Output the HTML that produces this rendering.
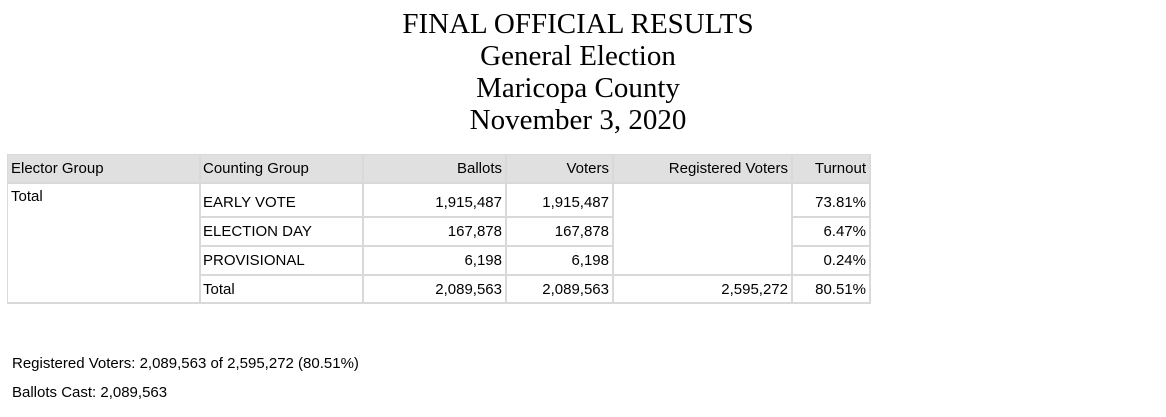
<!DOCTYPE html>
<html><head><meta charset="utf-8"><style>
body{margin:0;width:1166px;height:417px;background:#fff;position:relative;overflow:hidden;font-family:"Liberation Sans",sans-serif;color:#000}
.t{position:absolute;left:0;width:1156px;text-align:center;font-family:"Liberation Serif",serif;font-size:29px;line-height:32px}
.c{position:absolute;box-sizing:border-box;font-size:15px;padding:0 4px;white-space:nowrap}
.h{background:#e0e0e0;line-height:28px}
.r{text-align:right}
.ln{position:absolute;background:#d9d9d9}
.f{position:absolute;left:12px;font-size:15px}
</style></head><body>
<div class="t" style="top:8px">FINAL OFFICIAL RESULTS<br>General Election<br>Maricopa County<br>November 3, 2020</div>

<div>
<div class="c h" style="left:7px;top:155px;width:192px;height:28px">Elector Group</div>
<div class="c h" style="left:199px;top:155px;width:164px;height:28px">Counting Group</div>
<div class="c h r" style="left:363px;top:155px;width:143px;height:28px">Ballots</div>
<div class="c h r" style="left:506px;top:155px;width:107px;height:28px">Voters</div>
<div class="c h r" style="left:613px;top:155px;width:179px;height:28px">Registered Voters</div>
<div class="c h r" style="left:792px;top:155px;width:78px;height:28px">Turnout</div>

<div class="c" style="left:7px;top:188px">Total</div>

<div class="c" style="left:199px;top:194px">EARLY VOTE</div>
<div class="c r" style="left:363px;top:194px;width:143px">1,915,487</div>
<div class="c r" style="left:506px;top:194px;width:107px">1,915,487</div>
<div class="c r" style="left:792px;top:194px;width:78px">73.81%</div>

<div class="c" style="left:199px;top:223px">ELECTION DAY</div>
<div class="c r" style="left:363px;top:223px;width:143px">167,878</div>
<div class="c r" style="left:506px;top:223px;width:107px">167,878</div>
<div class="c r" style="left:792px;top:223px;width:78px">6.47%</div>

<div class="c" style="left:199px;top:252px">PROVISIONAL</div>
<div class="c r" style="left:363px;top:252px;width:143px">6,198</div>
<div class="c r" style="left:506px;top:252px;width:107px">6,198</div>
<div class="c r" style="left:792px;top:252px;width:78px">0.24%</div>

<div class="c" style="left:199px;top:281px">Total</div>
<div class="c r" style="left:363px;top:281px;width:143px">2,089,563</div>
<div class="c r" style="left:506px;top:281px;width:107px">2,089,563</div>
<div class="c r" style="left:613px;top:281px;width:179px">2,595,272</div>
<div class="c r" style="left:792px;top:281px;width:78px">80.51%</div>

<div class="ln" style="left:7px;top:154px;width:864px;height:1px"></div>
<div class="ln" style="left:7px;top:182px;width:864px;height:2px"></div>
<div class="ln" style="left:199px;top:216px;width:414px;height:2px"></div>
<div class="ln" style="left:792px;top:216px;width:79px;height:2px"></div>
<div class="ln" style="left:199px;top:245px;width:414px;height:2px"></div>
<div class="ln" style="left:792px;top:245px;width:79px;height:2px"></div>
<div class="ln" style="left:199px;top:274px;width:672px;height:2px"></div>
<div class="ln" style="left:7px;top:302px;width:864px;height:2px"></div>
<div class="ln" style="left:7px;top:154px;width:1px;height:150px"></div>
<div class="ln" style="left:199px;top:154px;width:2px;height:150px"></div>
<div class="ln" style="left:362px;top:154px;width:2px;height:150px"></div>
<div class="ln" style="left:505px;top:154px;width:2px;height:150px"></div>
<div class="ln" style="left:612px;top:154px;width:2px;height:150px"></div>
<div class="ln" style="left:791px;top:154px;width:2px;height:150px"></div>
<div class="ln" style="left:869px;top:154px;width:2px;height:150px"></div>
</div>

<div class="f" style="top:355px">Registered Voters: 2,089,563 of 2,595,272 (80.51%)</div>
<div class="f" style="top:384px">Ballots Cast: 2,089,563</div>
</body></html>
